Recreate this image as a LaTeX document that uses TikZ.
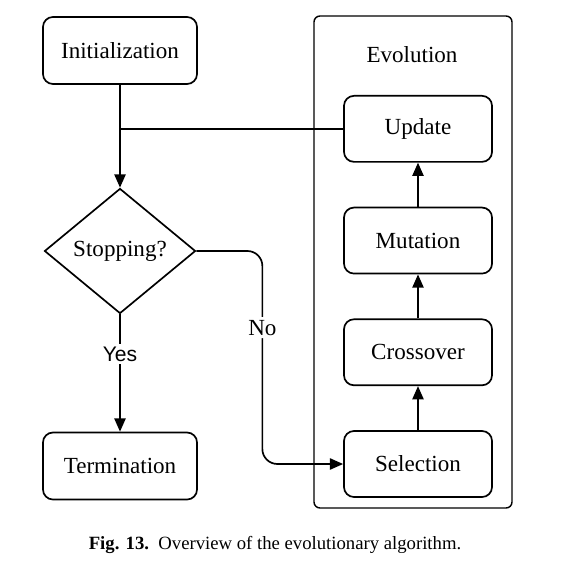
\documentclass[tikz,border=0pt]{standalone}
\usepackage{fontspec}
\setmainfont{Liberation Serif}
\newfontfamily\yesfont{Liberation Sans}
\usetikzlibrary{positioning, arrows.meta, shapes.geometric}

\begin{document}
\begin{tikzpicture}[x=0.025cm, y=-0.025cm,
    every node/.style={font=\fontsize{16.4}{19}\selectfont},
    node distance=1.1cm,
    stepbox/.style={draw, line width=1.2pt, rounded corners=0.25cm,
      minimum width=3.7cm, minimum height=1.65cm},
    endbox/.style={stepbox, minimum width=3.85cm, minimum height=1.675cm},
    decision/.style={draw, diamond, line width=1.2pt, inner sep=0pt,
      minimum width=3.775cm, minimum height=3.125cm},
    flow/.style={line width=1.2pt, -{Triangle[length=0.33cm, width=0.28cm]}}]
  \useasboundingbox (0,0) rectangle (570,582);
  % left column
  \node[endbox] (init) at (120,50.5) {Initialization};
  \node[decision] (stop) at (120,251) {Stopping?};
  \node[endbox] (term) at (120,466) {Termination};
  % evolution loop
  \draw[line width=1pt, rounded corners=0.15cm] (314,16) rectangle (512,508);
  \node (evo) at (412,55) {Evolution};
  \node[stepbox] (sel) at (418,464) {Selection};
  \node[stepbox, above=of sel] (cross) {Crossover};
  \node[stepbox, above=of cross] (mut) {Mutation};
  \node[stepbox, above=of mut] (upd) {Update};
  \draw[flow] (sel) -- (cross);
  \draw[flow] (cross) -- (mut);
  \draw[flow] (mut) -- (upd);
  % connectors
  \draw[line width=1.2pt] (upd.west) -- (upd.west -| init.south);
  \draw[flow] (init) -- (stop);
  \draw[flow] (stop) -- (term)
    node[pos=0.34, fill=white, inner sep=2pt, font=\yesfont\fontsize{15}{17}\selectfont] (yes) {Yes};
  \draw[flow, rounded corners=0.375cm] (stop.east) -- ++(66,0) |- (sel.west)
    node[pos=0.18, fill=white, inner sep=2pt] (no) {No};
  % caption
  \node (cap) at (275,545) {\fontsize{13.3}{16}\selectfont\textbf{Fig. 13.}\ \ Overview of the evolutionary algorithm.};
\end{tikzpicture}
\end{document}
